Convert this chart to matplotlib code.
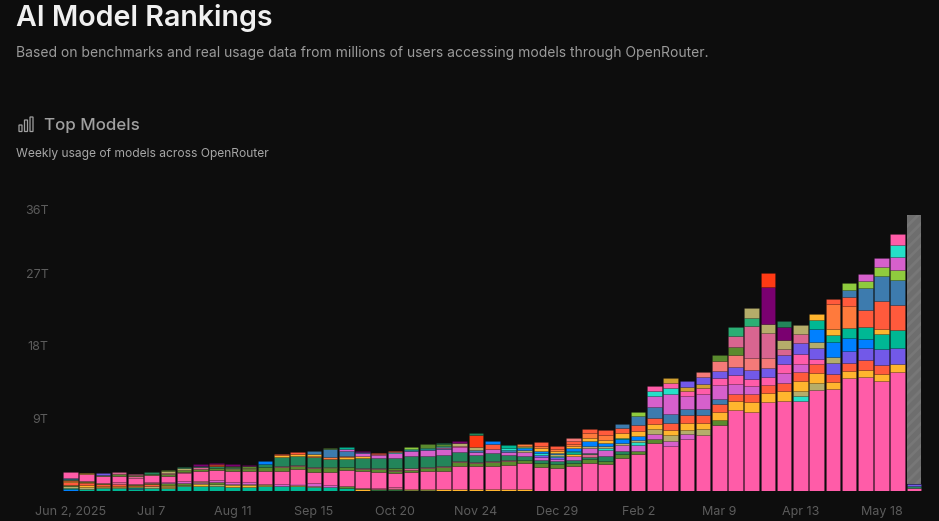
import matplotlib
matplotlib.use('Agg')
import matplotlib.pyplot as plt
from matplotlib.patches import FancyBboxPatch

plt.rcParams['font.family'] = ['Inter', 'DejaVu Sans']
plt.rcParams['hatch.linewidth'] = 2.0

BG = '#0d0d0d'

# one letter per model, bottom of the stack first
colors = {
    'p': '#ff5ca8', 't': '#00b894', 'a': '#ffb52e', 'r': '#ff5a3c', 'g': '#23855a',
    'o': '#5a8a2e', 'm': '#d660cc', 'v': '#7259e8', 's': '#3d7bae', 'b': '#0080ff',
    'c': '#25e0c8', 'k': '#b5ad6a', 'l': '#f47a78', 'd': '#d96590', 'u': '#7a0070',
    'f': '#ff3a14', 'n': '#ff7a3c', 'y': '#8fcb3e', 'e': '#2bae74', 'h': '#d0a030',
    'x': '#6e6e6e',
}

week_models = [
    'btkaorargsp', 'tskarnopoh', 'tkaropomv', 'tkardpod', 'tstaropdod', 'tkarodpog',
    'takaompodko', 'takompdokg', 'takmkpodgu', 'takompmogfru', 'takmpokgou', 'takmpokou',
    'takmpogb', 'tkmpodgar', 'tkampodgar', 'tkmpodgnas', 'tmpokgnso', 'topogansmt',
    'atopodgamsu', 'todpodgmdr', 'todpodogmcr', 'tapodgmscy', 'tapodgmsco', 'apodgmspcog',
    'apodgmpku', 'apodgmskfg', 'apodgmrb', 'apodgmsct', 'apogmkbcan', 'pogmvcbanr',
    'pogmvckbanr', 'pogmatcbanrl', 'pogdgmkbanr', 'pogmckbanr', 'pogmkbtars', 'pomckbarsy',
    'pomkarsmcp', 'pmkarsmcph', 'pmkarsmphv', 'pkarsmphvl', 'poarsmpvlo', 'parmpvlode',
    'parmpvldek', 'parpvldkuf', 'parmpvdkug', 'pckarmpvdk', 'pkarpvkbta', 'parvkbtanr',
    'parvbtnrsy', 'parvbtrsym', 'parvtarsym', 'pavtrsymcp', 'pgvx',
]

# weekly tokens, in trillions
week_values = [
    [.31, .06, .19, .12, .12, .37, .06, .12, .12, .19, .74],
    [.19, .12, .19, .19, .25, .19, .12, .83, .04, .12],
    [.37, .12, .12, .25, .12, .83, .12, .06, .19],
    [.37, .12, .12, .31, .25, .74, .19, .25],
    [.25, .12, .12, .12, .19, .12, .74, .19, .12, .12],
    [.37, .19, .12, .19, .12, .12, .83, .19, .19],
    [.43, .12, .12, .06, .25, .12, .78, .19, .12, .25, .12],
    [.56, .12, .12, .19, .25, 1.03, .09, .25, .25, .12],
    [.62, .25, .12, .12, .12, 1.24, .25, .31, .12, .19],
    [.56, .12, .19, .19, .25, 1.24, .06, .25, .19, .19, .12, .12],
    [.5, .25, .12, .25, 1.36, .29, .12, .12, .12, .16],
    [.5, .19, .19, .25, 1.36, .25, .12, .25, .12],
    [.56, .19, .06, .12, 1.53, .53, .41, .37],
    [.56, .12, .25, 1.57, .5, .12, 1.15, .21, .12],
    [.56, .12, .06, .19, 1.77, .37, .12, 1.15, .19, .33],
    [.53, .12, .31, 1.45, .41, .19, 1.15, .21, .21, .33],
    [.53, .21, 1.65, .41, .12, 1.08, .21, .99, .12],
    [.37, .19, 2.07, .33, .95, .33, .16, .58, .25, .25],
    [.19, .09, .06, 2.15, .29, .12, 1.15, .29, .33, .16, .16],
    [.09, .12, .12, 2.02, .37, .12, 1.24, .41, .12, .12],
    [.12, .12, .25, 1.77, .19, .19, .19, 1.24, .62, .12, .12],
    [.09, .15, 2.15, .25, .19, 1.49, .66, .12, .12, .19],
    [.09, .12, 2.32, .37, .12, 1.36, .68, .19, .12, .43],
    [.19, 2.32, .43, .12, 1.45, .66, .12, .19, .12, .19, .19],
    [.19, 2.85, .5, .12, 1.15, .62, .12, .46, .25],
    [.19, 2.89, .37, .1, .91, .33, .25, .37, 1.57, .21],
    [.19, 2.94, .5, .12, .91, .53, .58, .41],
    [.19, 3.01, .53, .12, .62, .41, .25, .19, .43],
    [.19, 3.31, .37, .5, .5, .16, .33, .12, .16, .16],
    [2.94, .5, .41, .37, .25, .25, .25, .31, .31, .43],
    [2.89, .41, .37, .33, .19, .19, .19, .19, .25, .25, .33],
    [3.1, .37, .43, .5, .19, .19, .19, .37, .25, .25, .31, .37],
    [3.51, .41, .33, .33, .19, .58, .25, .66, .29, .62, .46],
    [3.39, .37, .58, .71, .29, .29, .33, .37, .66, .53],
    [4.13, .41, .41, .74, .25, .46, .21, .58, .66, .41],
    [4.59, .41, .66, .37, .29, .5, .62, .74, 1.15, .46],
    [5.95, .46, .62, .62, .71, .74, 1.33, 1.4, .58, .62],
    [5.58, .58, .74, .71, .83, 1.08, 2.57, .74, .58, .58],
    [6.45, .62, .53, .87, .95, .74, 1.65, .53, .58, .71],
    [6.94, .74, .71, 1.03, .74, 1.9, .74, .5, .78, .71],
    [8.18, .62, 1.03, .99, .58, 1.74, .83, .87, 1.33, .71],
    [10.0, 1.15, .91, 1.24, 1.03, 1.03, 1.49, .95, 1.45, 1.08],
    [9.83, 1.24, .95, .95, .95, 1.03, 1.57, 3.93, .95, 1.33],
    [11.04, 1.12, 1.03, .99, 1.08, 1.28, 3.01, 1.2, 4.59, 1.7],
    [11.12, 1.24, 1.08, 1.15, 1.12, 1.15, .71, 1.12, 1.65, .74],
    [11.16, .66, .53, 1.28, 1.15, 1.03, 1.2, 1.36, 1.15, 1.03],
    [12.52, .83, 1.24, 1.12, .62, 1.36, .78, 1.57, 1.15, .74],
    [12.65, .91, .95, 1.36, .74, 1.82, .91, .78, 3.01, .74],
    [14.01, .87, 1.03, 1.49, 1.61, 1.24, 2.69, 1.08, .87, .87],
    [14.1, .95, 1.2, 1.53, 1.08, 1.53, 2.07, 2.69, .83, .95],
    [13.64, .91, 1.12, 1.9, 1.95, .62, 3.47, 3.06, 1.08, 1.15],
    [14.76, 1.03, 1.9, 2.32, 3.1, 3.06, 1.24, 1.65, 1.49, 1.28],
    [.37, .25, .21, 33.4],
]

x_positions = [0, 5, 10, 15, 20, 25, 30, 35, 40, 45, 50]
x_labels = ['Jun 2, 2025', 'Jul 7', 'Aug 11', 'Sep 15', 'Oct 20', 'Nov 24',
            'Dec 29', 'Feb 2', 'Mar 9', 'Apr 13', 'May 18']
y_positions = [9, 18, 27, 34.85]
y_labels = ['9T', '18T', '27T', '36T']

W, H = 939, 521
fig = plt.figure(figsize=(W / 100, H / 100), dpi=100, facecolor=BG)
ax = fig.add_axes([50 / W, (H - 491) / H, 880 / W, 291 / H], facecolor=BG)

for i, (models, values) in enumerate(zip(week_models, week_values)):
    bottom = 0
    for model, value in zip(models, values):
        if model == 'x':
            ax.bar(i, value, width=0.9, bottom=bottom, color=colors[model],
                   hatch='///', edgecolor='#777777', linewidth=0)
        else:
            ax.bar(i, value, width=0.9, bottom=bottom, color=colors[model],
                   edgecolor=(0, 0, 0, 0.14), linewidth=0.5)
        bottom += value

ax.set_xlim(-20.5 / 16.22, 859.5 / 16.22)
ax.set_ylim(0, 291 * 0.124)
for side in ax.spines.values():
    side.set_visible(False)
ax.set_xticks(x_positions, x_labels)
ax.set_yticks(y_positions, y_labels)
ax.tick_params(axis='both', length=0, colors='#5c5c5c', labelsize=9)
ax.tick_params(axis='x', pad=10.5)
ax.tick_params(axis='y', pad=1)


def put(x, y, s, **kw):
    fig.text(x / W, 1 - y / H, s, va='center', ha='left', **kw)


put(16, 18.5, 'AI Model Rankings', color='#f0f0f0', fontsize=20.6, fontweight='semibold')
put(16, 52.5, 'Based on benchmarks and real usage data from millions of users accessing models through OpenRouter.',
    color='#9b9b9b', fontsize=10)
put(44, 125.5, 'Top Models', color='#a0a0a0', fontsize=12.2, fontweight='medium')
put(16, 154, 'Weekly usage of models across OpenRouter', color='#a6a6a6', fontsize=8.7)

# little bar icon next to the section title
for left, top in [(19, 125), (24.5, 120), (30, 117)]:
    fig.add_artist(FancyBboxPatch((left / W, 1 - 131.5 / H), 3 / W, (131.5 - top) / H,
                                  boxstyle='round,pad=0', transform=fig.transFigure,
                                  facecolor='none', edgecolor='#a0a0a0', linewidth=0.9))

fig.savefig('out.png', dpi=100, facecolor=BG)
plt.close(fig)
